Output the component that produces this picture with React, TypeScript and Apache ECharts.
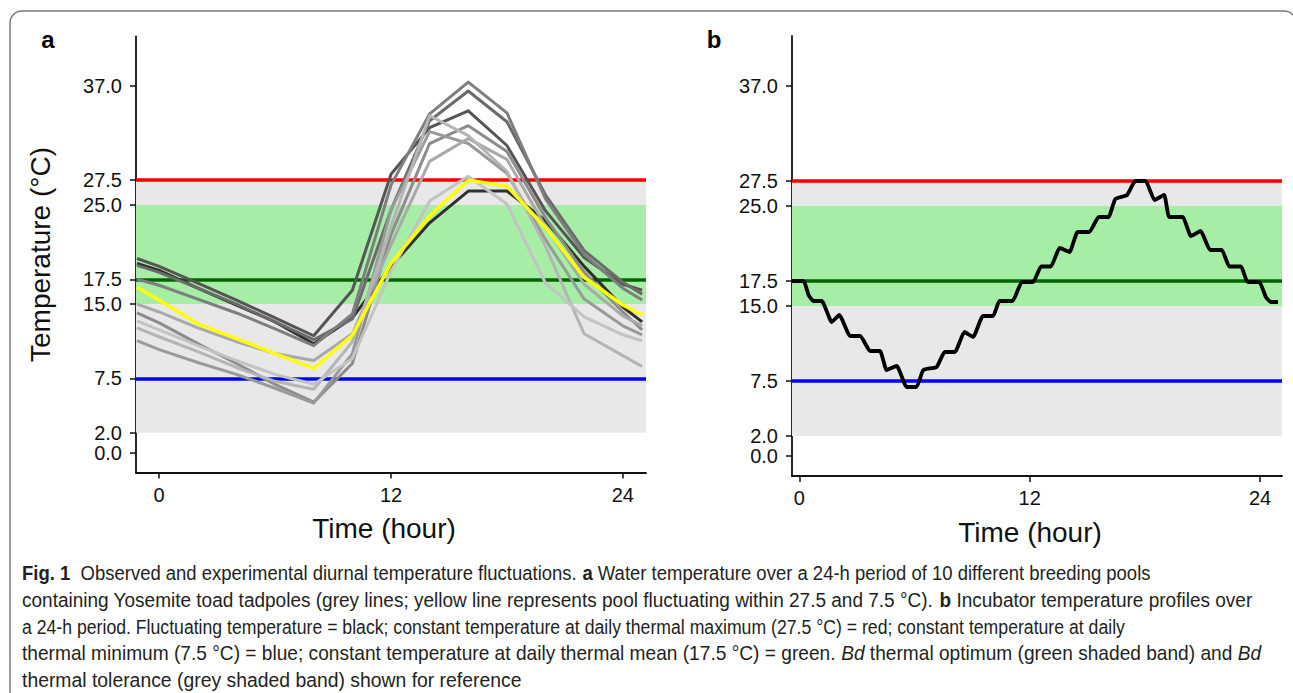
import React, { useEffect, useRef } from "react";
import * as echarts from "echarts";

// ---------- data ----------
// Panel a: hours of observation and water temperatures (°C) of 10 pools
const hoursA = [-1.15, 0, 2, 4, 6, 8, 10, 12, 14, 16, 18, 20, 22, 24, 25];
const pool1 = [19.1, 18.4, 16.6, 14.9, 13.2, 11.0, 13.6, 18.8, 23.2, 26.4, 26.4, 23.4, 18.8, 14.7, 13.2];
const pool2 = [19.6, 18.8, 17.1, 15.4, 13.6, 11.8, 16.4, 28.1, 32.8, 34.5, 31.0, 24.4, 19.7, 17.0, 16.4];
const pool3 = [18.9, 18.2, 16.6, 15.0, 13.2, 11.4, 13.5, 24.5, 33.5, 36.5, 33.4, 26.0, 20.4, 17.2, 16.0];
const pool4 = [17.5, 16.9, 15.5, 14.1, 12.5, 10.8, 14.0, 27.0, 34.2, 37.4, 34.3, 25.6, 20.0, 16.6, 15.4];
const pool5 = [14.1, 13.1, 11.0, 9.0, 6.9, 5.1, 9.0, 22.0, 31.2, 33.0, 30.4, 23.7, 18.2, 14.2, 12.4];
const pool6 = [11.3, 10.4, 9.1, 7.9, 6.5, 5.0, 10.0, 24.5, 32.4, 31.2, 28.2, 21.5, 15.5, 12.8, 11.9];
const pool7 = [15.0, 14.2, 12.6, 11.2, 10.0, 9.3, 12.0, 21.0, 29.4, 31.7, 29.6, 22.8, 17.0, 13.8, 12.8];
const pool8 = [12.6, 11.7, 10.2, 8.6, 7.2, 6.4, 11.2, 22.8, 34.0, 32.0, 28.4, 20.8, 12.0, 9.8, 8.7];
const pool9 = [13.3, 12.4, 10.8, 9.3, 7.9, 6.9, 9.5, 18.3, 25.4, 27.9, 25.1, 17.1, 13.7, 11.9, 11.3];
const poolYellow = [16.7, 15.4, 13.0, 11.5, 10.0, 8.5, 11.85, 19.1, 23.9, 27.5, 26.9, 22.7, 17.7, 14.9, 13.9];
const greyPools = [pool1, pool2, pool3, pool4, pool5, pool6, pool7, pool8, pool9];
const greyShades = ["#2f2f2f", "#555555", "#6b6b6b", "#7e7e7e", "#8c8c8c", "#9a9a9a", "#a9a9a9", "#b5b5b5", "#c3c3c3"];

// Panel b: incubator fluctuating profile
const hoursB = [-0.38, 0.22, 0.48, 0.74, 1.17, 1.69, 2.09, 2.65, 3.17, 3.69, 4.2, 4.55, 5.07, 5.6, 6.1, 6.46, 7.15, 7.58, 8.1, 8.6, 9.05, 9.57, 10.09, 10.43, 11.1, 11.6, 12.17, 12.6, 13.1, 13.56, 14.07, 14.5, 15.1, 15.6, 16.1, 16.46, 17.07, 17.5, 18.03, 18.5, 19.0, 19.27, 19.96, 20.4, 20.9, 21.4, 22.0, 22.4, 23.0, 23.35, 23.95, 24.3, 24.55, 24.93];
const tempsB = [17.5, 17.5, 16.1, 15.5, 15.5, 13.4, 14.1, 12.0, 12.0, 10.5, 10.5, 8.6, 9.0, 6.9, 6.9, 8.6, 8.9, 10.4, 10.4, 12.4, 11.9, 14.0, 14.0, 15.5, 15.5, 17.4, 17.4, 18.95, 18.95, 20.8, 20.4, 22.4, 22.4, 23.9, 23.9, 25.7, 26.1, 27.5, 27.5, 25.6, 26.1, 23.9, 23.9, 22.0, 22.5, 20.6, 20.6, 18.95, 18.95, 17.4, 17.4, 15.9, 15.4, 15.4];

// reference levels
const thermalMax = 27.5;
const thermalMin = 7.5;
const thermalMean = 17.5;
const optimumBand = [15, 25];
const toleranceBand = [2, 27.5];

// ticks
const yTicks = [0, 2, 7.5, 15, 17.5, 25, 27.5, 37];
const xTicks = [0, 12, 24];

const captionLines = [
  "{b|Fig. 1}  Observed and experimental diurnal temperature fluctuations. {b|a} Water temperature over a 24-h period of 10 different breeding pools",
  "containing Yosemite toad tadpoles (grey lines; yellow line represents pool fluctuating within 27.5 and 7.5 °C). {b|b} Incubator temperature profiles over",
  "a 24-h period. Fluctuating temperature = black; constant temperature at daily thermal maximum (27.5 °C) = red; constant temperature at daily",
  "thermal minimum (7.5 °C) = blue; constant temperature at daily thermal mean (17.5 °C) = green. {i|Bd} thermal optimum (green shaded band) and {i|Bd}",
  "thermal tolerance (grey shaded band) shown for reference",
];
// width budget (px) for each caption line, to mimic the condensed caption face
const captionRightEdges = [1151, 1252, 1126, 1261, 522];

const AX_FONT = "'Liberation Sans', Arial, Helvetica, sans-serif";
const CAP_FONT = "'Liberation Sans', Arial, sans-serif";
const CAP_SIZE = 21;
const CAP_LEFT = 22;

function measureCaption(line: string): number {
  const canvas = document.createElement("canvas");
  const ctx = canvas.getContext("2d");
  if (!ctx) return 1000;
  let total = 0;
  const re = /\{(\w)\|([^}]*)\}/g;
  let last = 0;
  let m: RegExpExecArray | null;
  while ((m = re.exec(line))) {
    ctx.font = `${CAP_SIZE}px ${CAP_FONT}`;
    total += ctx.measureText(line.slice(last, m.index)).width;
    ctx.font = m[1] === "b" ? `bold ${CAP_SIZE}px ${CAP_FONT}` : `italic ${CAP_SIZE}px ${CAP_FONT}`;
    total += ctx.measureText(m[2]).width;
    last = m.index + m[0].length;
  }
  ctx.font = `${CAP_SIZE}px ${CAP_FONT}`;
  total += ctx.measureText(line.slice(last)).width;
  return total;
}

function makeXAxis(gridIndex: number, min: number, max: number) {
  return {
    type: "value",
    gridIndex,
    min,
    max,
    name: "Time (hour)",
    nameLocation: "middle",
    nameGap: 42,
    nameTextStyle: { fontFamily: AX_FONT, fontSize: 28, color: "#111", padding: [0, 14, 0, 0] },
    splitLine: { show: false },
    axisLine: { show: true, onZero: false, lineStyle: { color: "#111", width: 1.8 } },
    axisTick: { show: true, length: 6, customValues: xTicks, lineStyle: { color: "#111", width: 1.5 } },
    axisLabel: { customValues: xTicks, margin: 12, fontFamily: AX_FONT, fontSize: 20, color: "#111", formatter: (v: number) => String(v) },
  };
}

function makeYAxis(gridIndex: number, withName: boolean) {
  return {
    type: "value",
    gridIndex,
    min: -2,
    max: 42,
    name: withName ? "Temperature (°C)" : "",
    nameLocation: "middle",
    nameGap: 82,
    nameTextStyle: { fontFamily: AX_FONT, fontSize: 28, color: "#111" },
    splitLine: { show: false },
    axisLine: { show: true, onZero: false, lineStyle: { color: "#111", width: 1.8 } },
    axisTick: { show: true, length: 6, customValues: yTicks, lineStyle: { color: "#111", width: 1.5 } },
    axisLabel: { customValues: yTicks, margin: 14, fontFamily: AX_FONT, fontSize: 20, color: "#111", formatter: (v: number) => v.toFixed(1) },
  };
}

function refSeries(idx: number) {
  return [
    {
      type: "line",
      xAxisIndex: idx,
      yAxisIndex: idx,
      data: [],
      silent: true,
      z: 1,
      markArea: {
        silent: true,
        itemStyle: { color: "#e8e8e8" },
        data: [[{ yAxis: toleranceBand[0] }, { yAxis: toleranceBand[1] }]],
      },
    },
    {
      type: "line",
      xAxisIndex: idx,
      yAxisIndex: idx,
      data: [],
      silent: true,
      z: 2,
      markArea: {
        silent: true,
        itemStyle: { color: "#a6eda6" },
        data: [[{ yAxis: optimumBand[0] }, { yAxis: optimumBand[1] }]],
      },
    },
    {
      type: "line",
      xAxisIndex: idx,
      yAxisIndex: idx,
      data: [],
      silent: true,
      z: 3,
      markLine: {
        silent: true,
        symbol: "none",
        label: { show: false },
        data: [
          { yAxis: thermalMax, lineStyle: { color: "#ff0000", width: 3.5, type: "solid" } },
          { yAxis: thermalMean, lineStyle: { color: "#006400", width: 3.5, type: "solid" } },
          { yAxis: thermalMin, lineStyle: { color: "#0000ff", width: 3.5, type: "solid" } },
        ],
      },
    },
  ];
}

export default function App() {
  const ref = useRef<HTMLDivElement>(null);
  useEffect(() => {
    if (!ref.current) return;
    const chart = echarts.init(ref.current, undefined, { renderer: "svg" });
    const greySeries = greyPools.map((vals, i) => ({
      type: "line",
      xAxisIndex: 0,
      yAxisIndex: 0,
      data: hoursA.map((h, j) => [h, vals[j]]),
      showSymbol: false,
      lineStyle: { color: greyShades[i], width: 3, join: "round" },
      z: 5,
    }));
    const captionGraphics = captionLines.map((line, i) => {
      const natural = measureCaption(line);
      const target = captionRightEdges[i] - CAP_LEFT;
      const sx = Math.min(1, target / natural);
      return {
        type: "text",
        x: CAP_LEFT,
        y: 573 + i * 26.7,
        scaleX: sx,
        scaleY: 1,
        style: {
          text: line,
          fontFamily: CAP_FONT,
          fontSize: CAP_SIZE,
          fill: "#231f20",
          align: "left",
          verticalAlign: "middle",
          rich: {
            b: { fontFamily: CAP_FONT, fontSize: CAP_SIZE, fontWeight: "bold", fill: "#231f20" },
            i: { fontFamily: CAP_FONT, fontSize: CAP_SIZE, fontStyle: "italic", fill: "#231f20" },
          },
        },
      };
    });
    const option = {
      animation: false,
      backgroundColor: "#ffffff",
      grid: [
        { left: 136, top: 36.5, width: 510, height: 436 },
        { left: 792, top: 36, width: 490, height: 440 },
      ],
      xAxis: [makeXAxis(0, -1.2, 25.2), makeXAxis(1, -0.38, 25.14)],
      yAxis: [makeYAxis(0, true), makeYAxis(1, false)],
      series: [
        ...refSeries(0),
        ...refSeries(1),
        ...greySeries,
        {
          type: "line",
          xAxisIndex: 0,
          yAxisIndex: 0,
          data: hoursA.map((h, j) => [h, poolYellow[j]]),
          showSymbol: false,
          lineStyle: { color: "#ffff00", width: 3.5, join: "round" },
          z: 6,
        },
        {
          type: "line",
          xAxisIndex: 1,
          yAxisIndex: 1,
          data: hoursB.map((h, j) => [h, tempsB[j]]),
          showSymbol: false,
          smooth: 0.15,
          lineStyle: { color: "#000000", width: 3.8, join: "round" },
          z: 6,
        },
      ],
      graphic: [
        {
          type: "rect",
          shape: { x: 10, y: 11, width: 1286, height: 720, r: 12 },
          style: { fill: "none", stroke: "#7a7a7a", lineWidth: 1.5 },
          silent: true,
          z: 0,
        },
        {
          type: "text",
          x: 48,
          y: 39,
          style: { text: "a", fontFamily: AX_FONT, fontSize: 24, fontWeight: "bold", fill: "#000", align: "center", verticalAlign: "middle" },
        },
        {
          type: "text",
          x: 714,
          y: 39,
          style: { text: "b", fontFamily: AX_FONT, fontSize: 24, fontWeight: "bold", fill: "#000", align: "center", verticalAlign: "middle" },
        },
        ...captionGraphics,
      ],
    };
    chart.setOption(option as any);
    return () => chart.dispose();
  }, []);
  return (
    <div
      ref={ref}
      style={{ position: "fixed", left: 0, top: 0, width: 1293, height: 693, background: "#fff" }}
    />
  );
}
